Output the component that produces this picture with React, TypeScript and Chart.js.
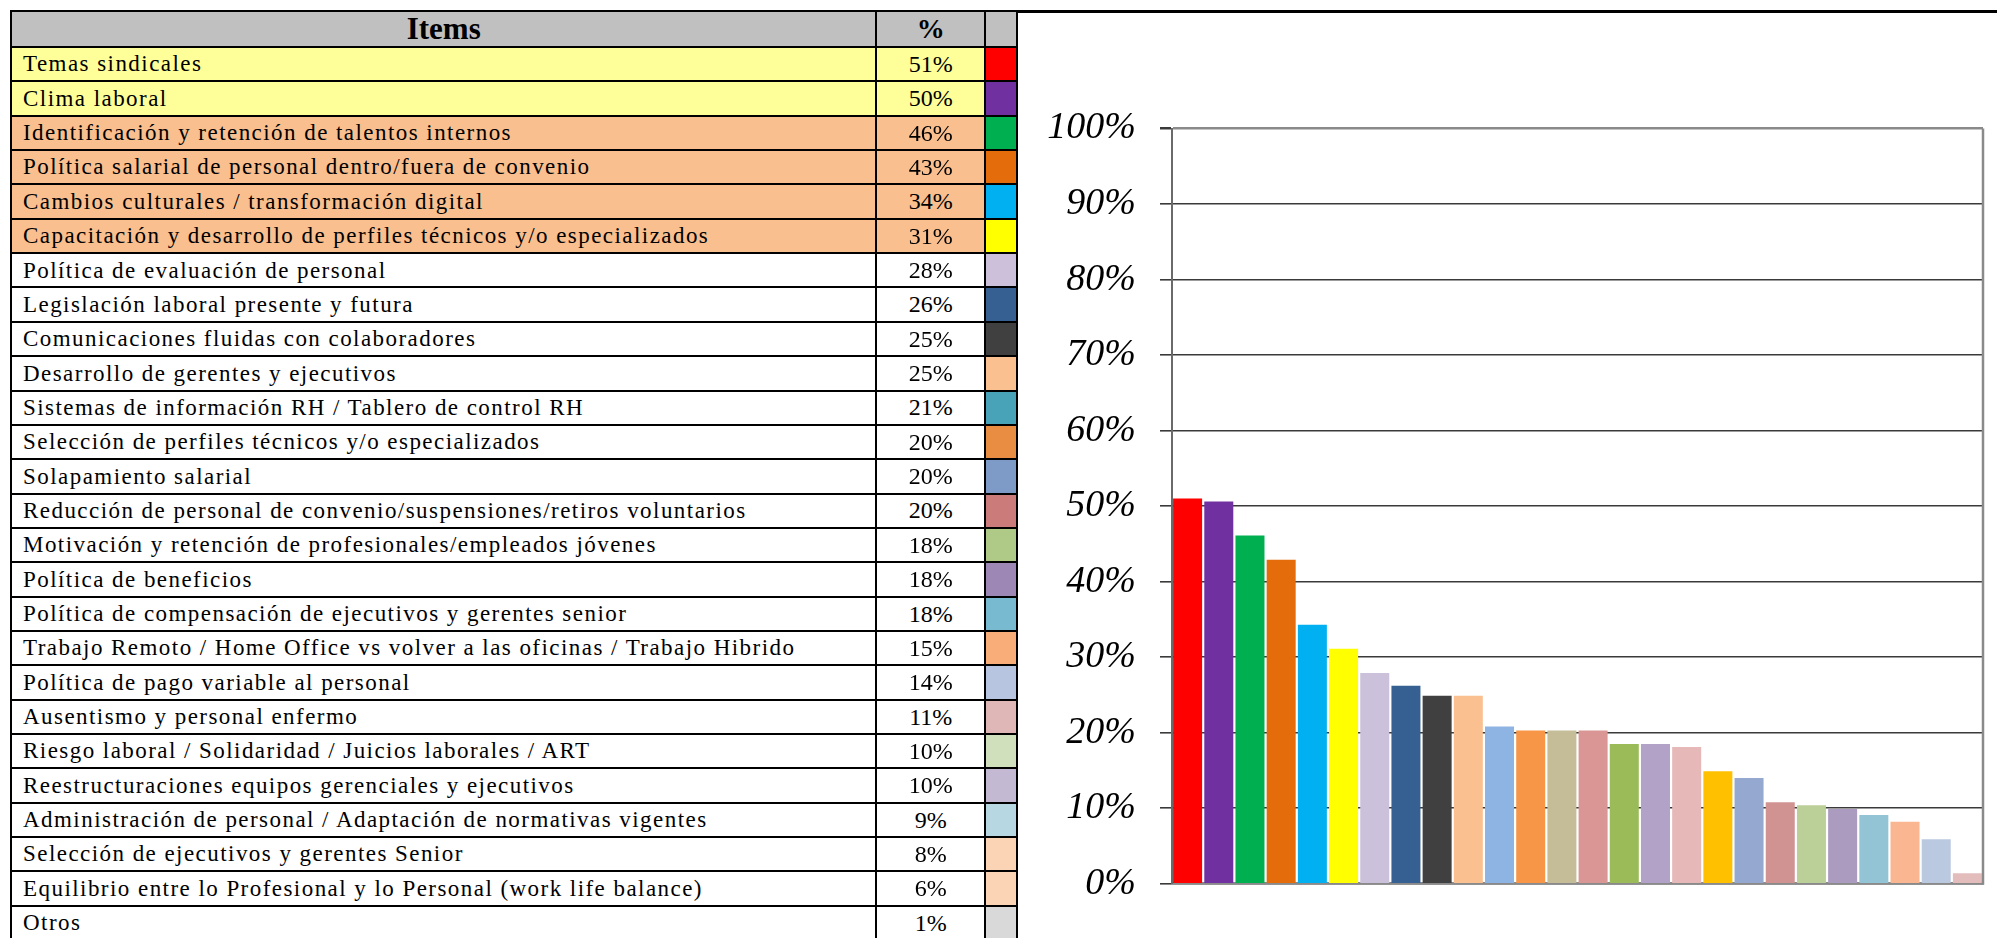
import React, { useEffect, useRef } from "react";
import { Chart, registerables } from "chart.js";

Chart.register(...registerables);

// ---------------- DATA ----------------
const items: string[] = [
  "Temas sindicales",
  "Clima laboral",
  "Identificación y retención de talentos internos",
  "Política salarial de personal dentro/fuera de convenio",
  "Cambios culturales / transformación digital",
  "Capacitación y desarrollo de perfiles técnicos y/o especializados",
  "Política de evaluación de personal",
  "Legislación laboral presente y futura",
  "Comunicaciones fluidas con colaboradores",
  "Desarrollo de gerentes y ejecutivos",
  "Sistemas de información RH / Tablero de control RH",
  "Selección de perfiles técnicos y/o especializados",
  "Solapamiento salarial",
  "Reducción de personal de convenio/suspensiones/retiros voluntarios",
  "Motivación y retención de profesionales/empleados jóvenes",
  "Política de beneficios",
  "Política de compensación de ejecutivos y gerentes senior",
  "Trabajo Remoto / Home Office vs volver a las oficinas / Trabajo Hibrido",
  "Política de pago variable al personal",
  "Ausentismo y personal enfermo",
  "Riesgo laboral / Solidaridad / Juicios laborales / ART",
  "Reestructuraciones equipos gerenciales y ejecutivos",
  "Administración de personal / Adaptación de normativas vigentes",
  "Selección de ejecutivos y gerentes Senior",
  "Equilibrio entre lo Profesional y lo Personal (work life balance)",
  "Otros",
];

const tablePercents: string[] = [
  "51%", "50%", "46%", "43%", "34%", "31%", "28%", "26%", "25%", "25%",
  "21%", "20%", "20%", "20%", "18%", "18%", "18%", "15%", "14%", "11%",
  "10%", "10%", "9%", "8%", "6%", "1%",
];

const values: number[] = [
  51.0, 50.6, 46.1, 42.9, 34.3, 31.1, 27.9, 26.2, 24.9, 24.9,
  20.8, 20.3, 20.3, 20.3, 18.5, 18.5, 18.1, 14.9, 14.0, 10.8,
  10.4, 9.9, 9.1, 8.2, 5.9, 1.4,
];

const barColors: string[] = [
  "#FF0000", "#7030A0", "#00B050", "#E46C0A", "#00B0F0", "#FFFF00",
  "#CCC1DA", "#376092", "#404040", "#FAC090", "#8EB4E3", "#F79646",
  "#C4BD97", "#D99694", "#9BBB59", "#B3A2C7", "#E6B9B8", "#FFC000",
  "#95A9D0", "#D09392", "#BBCF98", "#AB9BBE", "#93C4D5", "#F9B691",
  "#BAC8E0", "#E3BCBC",
];

const swatchColors: string[] = [
  "#FF0000", "#7030A0", "#00B050", "#E46C0A", "#00B0F0", "#FFFF00",
  "#CCC0DA", "#366092", "#404040", "#FAC090", "#48A2B8", "#E98D43",
  "#7E9BC8", "#CB7B7A", "#AFC987", "#9D88B5", "#78BAD0", "#F9AD78",
  "#B7C5E0", "#E0B7B7", "#D0DFBC", "#C4B9D3", "#B7D7E2", "#FBD4B5",
  "#FBD4B5", "#D9D9D9",
];

const rowGroups: string[] = [
  "yellow", "yellow", "orange", "orange", "orange", "orange",
  "white", "white", "white", "white", "white", "white", "white",
  "white", "white", "white", "white", "white", "white", "white",
  "white", "white", "white", "white", "white", "white",
];

const headerItems = "Items";
const headerPercent = "%";

// ---------------- STYLE ----------------
const groupFill: Record<string, string> = {
  yellow: "#FFFF99",
  orange: "#F9BF8F",
  white: "#FFFFFF",
};
const LINE = 2.5;
const COL_X = [10, 875, 984, 1015];
const HEADER_TOP = 10;
const HEADER_H = 36;
const ROW_H = 34.35;
const SERIF = "'Liberation Serif', 'Times New Roman', serif";

function Cell(props: {
  x0: number; x1: number; y: number; h: number; bg: string;
  children?: React.ReactNode; align?: "left" | "center"; bold?: boolean; size?: number; spacing?: number;
}) {
  const { x0, x1, y, h, bg, children, align = "left", bold = false, size = 23, spacing = 0 } = props;
  return (
    <div
      style={{
        position: "absolute",
        left: x0,
        top: y,
        width: x1 - x0 + LINE,
        height: h + LINE,
        boxSizing: "border-box",
        border: `${LINE}px solid #000`,
        background: bg,
        display: "flex",
        alignItems: "center",
        justifyContent: align === "center" ? "center" : "flex-start",
        paddingLeft: align === "left" ? 11 : 0,
        fontFamily: SERIF,
        fontSize: size,
        fontWeight: bold ? 700 : 400,
        letterSpacing: spacing,
        whiteSpace: "nowrap",
        color: "#000",
        overflow: "hidden",
      }}
    >
      {children}
    </div>
  );
}

export default function App() {
  const canvasRef = useRef<HTMLCanvasElement>(null);

  useEffect(() => {
    document.body.style.margin = "0";
    const framePlugin = {
      id: "frame",
      afterDatasetsDraw(chart: any) {
        const { ctx, chartArea } = chart;
        ctx.save();
        ctx.strokeStyle = "#8a8a8a";
        ctx.lineWidth = 2.5;
        ctx.beginPath();
        ctx.moveTo(chartArea.right, chartArea.top);
        ctx.lineTo(chartArea.right, chartArea.bottom + 1);
        ctx.stroke();
        ctx.restore();
      },
    };
    const chart = new Chart(canvasRef.current as HTMLCanvasElement, {
      type: "bar",
      data: {
        labels: items,
        datasets: [
          {
            data: values,
            backgroundColor: barColors,
            borderWidth: 0,
            barPercentage: 0.93,
            categoryPercentage: 1,
          },
        ],
      },
      options: {
        animation: false,
        responsive: false,
        devicePixelRatio: 1,
        layout: { padding: { top: 128.5, bottom: 54.3, right: 14, left: 0 } },
        plugins: {
          legend: { display: false },
          tooltip: { enabled: false },
          title: { display: false },
        },
        scales: {
          x: {
            grid: { display: false },
            ticks: { display: false },
            border: { display: true, color: "#8a8a8a", width: 2.5 },
            afterFit: (scale: any) => {
              scale.height = 0;
            },
          },
          y: {
            min: 0,
            max: 100,
            ticks: {
              stepSize: 10,
              padding: 24,
              color: "#000",
              font: { family: "'Liberation Serif', serif", style: "italic", size: 38 },
              callback: (v: any) => `${v}%`,
            },
            grid: {
              color: (ctx: any) => (ctx.tick && ctx.tick.value === 100 ? "#8a8a8a" : "#3a3a3a"),
              lineWidth: (ctx: any) => (ctx.tick && ctx.tick.value === 100 ? 2.5 : 1.6),
              tickLength: 12,
              tickColor: "#3a3a3a",
              drawTicks: true,
            },
            border: { display: true, color: "#6a6a6a", width: 2 },
            afterFit: (scale: any) => {
              scale.width = 155;
            },
          },
        },
      },
      plugins: [framePlugin],
    });
    return () => chart.destroy();
  }, []);

  return (
    <div
      style={{
        position: "fixed",
        left: 0,
        top: 0,
        width: 1997,
        height: 938,
        overflow: "hidden",
        background: "#fff",
      }}
    >
      <canvas
        ref={canvasRef}
        width={980}
        height={938}
        style={{ position: "absolute", left: 1017, top: 0, width: 980, height: 938 }}
      />
      {/* top frame line across chart region */}
      <div style={{ position: "absolute", left: 1015, top: HEADER_TOP, width: 982, height: LINE, background: "#000" }} />
      {/* header */}
      <Cell x0={COL_X[0]} x1={COL_X[1]} y={HEADER_TOP} h={HEADER_H} bg="#C0C0C0" align="center" bold size={31}>
        {headerItems}
      </Cell>
      <Cell x0={COL_X[1]} x1={COL_X[2]} y={HEADER_TOP} h={HEADER_H} bg="#C0C0C0" align="center" bold size={28}>
        {headerPercent}
      </Cell>
      <Cell x0={COL_X[2]} x1={COL_X[3]} y={HEADER_TOP} h={HEADER_H} bg="#C0C0C0" />
      {items.map((name, i) => {
        const y = HEADER_TOP + HEADER_H + i * ROW_H;
        const bg = groupFill[rowGroups[i]];
        return (
          <React.Fragment key={i}>
            <Cell x0={COL_X[0]} x1={COL_X[1]} y={y} h={ROW_H} bg={bg} spacing={1.45}>
              {name}
            </Cell>
            <Cell x0={COL_X[1]} x1={COL_X[2]} y={y} h={ROW_H} bg={bg} align="center" size={24}>
              {tablePercents[i]}
            </Cell>
            <Cell x0={COL_X[2]} x1={COL_X[3]} y={y} h={ROW_H} bg={swatchColors[i]} />
          </React.Fragment>
        );
      })}
    </div>
  );
}
